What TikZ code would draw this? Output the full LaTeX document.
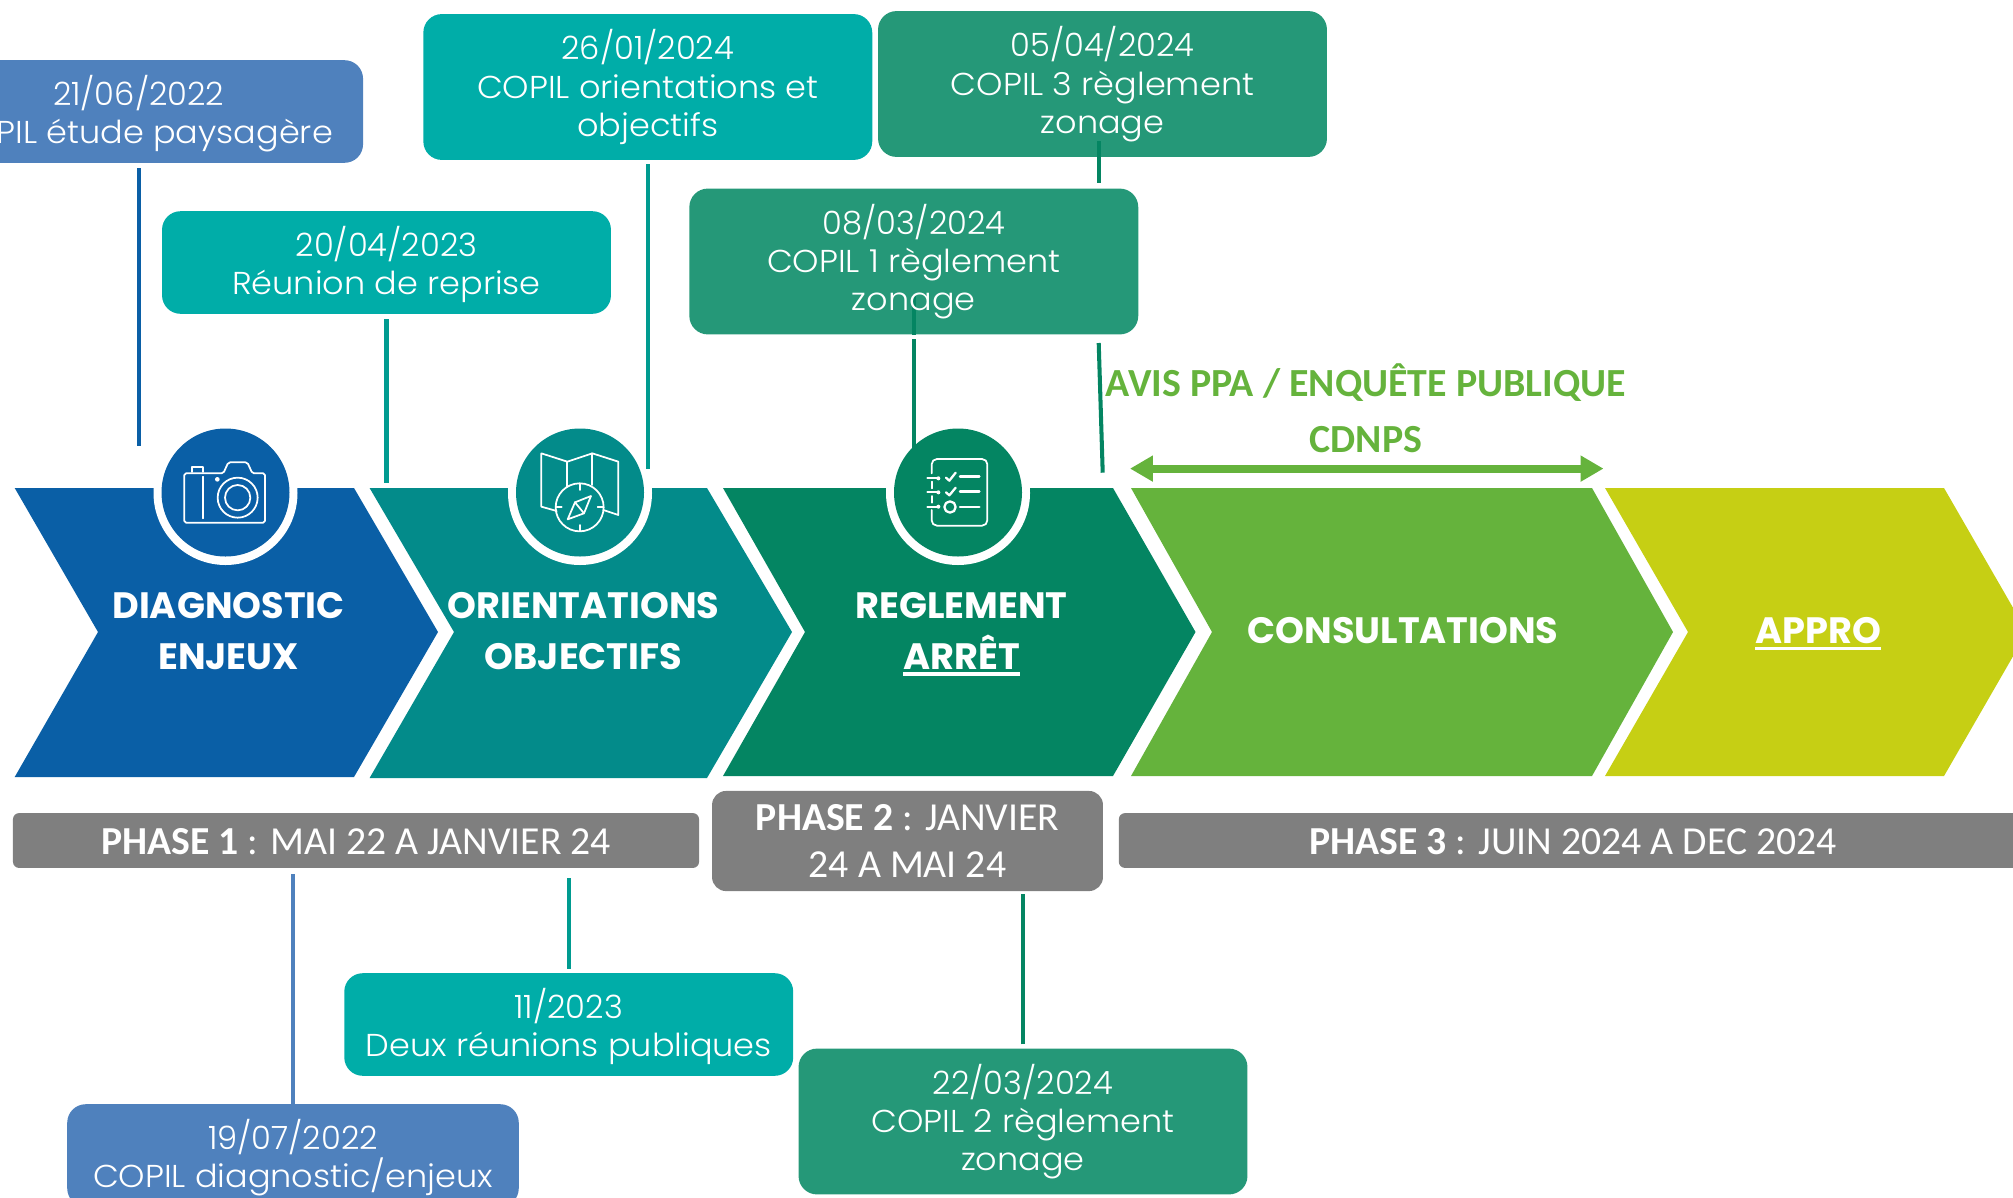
\documentclass[tikz,border=0pt]{standalone}
\usepackage{fontspec}
\setmainfont{Poppins}[UprightFont=* Light,BoldFont=* Bold]
\newfontfamily\boxfont{Poppins}[UprightFont=* Light,FakeStretch=1.06]
\newfontfamily\datefontf{Poppins}[UprightFont=* Light]
\newcommand\dt[1]{{\datefontf\fontsize{18.3}{21.8}\selectfont #1}}
\newfontfamily\calib{Carlito}
\usetikzlibrary{calc,arrows.meta}
\definecolor{cBlue}{HTML}{0A5FA6}
\definecolor{cTeal}{HTML}{038B8A}
\definecolor{cGreen}{HTML}{048562}
\definecolor{cLight}{HTML}{65B33C}
\definecolor{cLime}{HTML}{C6CF14}
\definecolor{bBlue}{HTML}{4F81BD}
\definecolor{bTeal}{HTML}{00ADA8}
\definecolor{bGreen}{HTML}{259878}
\definecolor{cGray}{HTML}{7F7F7F}
\definecolor{lTeal}{HTML}{009B90}
\newcommand\ulin[1]{\sbox0{#1}\usebox0\smash{\llap{\rule[-0.17em]{\wd0}{0.09em}}}}
\newcommand\toptwo{\rule{0pt}{19.5pt}}
\newcommand\topthree{\rule{0pt}{17.5pt}}
\newcommand\topbar{\rule{0pt}{16.5pt}}
\tikzset{
 x=0.02cm,y=-0.02cm,
 cbox/.style={rounded corners=10.5pt,minimum width=255.5pt,inner sep=0pt,text=white,align=center,
   font=\boxfont\fontsize{18}{21.8}\selectfont},
 boxlabel/.style={inner sep=0pt,text=white,align=center,font=\boxfont\fontsize{18}{21.8}\selectfont},
 ctext/.style={text=white,align=center,inner sep=0pt,font=\fontsize{20.9}{29}\selectfont\bfseries},
 phasebar/.style={fill=cGray,text=white,align=center,inner sep=0pt,font=\calib\fontsize{22.6}{27}\selectfont},
 avistext/.style={text=cLight,inner sep=0pt,font=\calib\bfseries\fontsize{22.7}{25}\selectfont},
 conn/.style={line width=2.3pt},
 icon/.style={draw=white,line width=1pt,line join=round,line cap=round},
 zoomgrid/.style={x=0.006667cm,y=-0.006667cm},
}
\begin{document}
\begin{tikzpicture}
\useasboundingbox (0,0) rectangle (2013,1197);
\clip (0,0) rectangle (2013,1197);
% chevrons
\fill[cBlue] (14.7,488)--(354,488)--(438,632)--(354,777)--(14.7,777)--(98,632)--cycle;
\fill[cTeal] (369.6,488)--(707,488)--(792,632)--(707,778)--(369.6,778)--(454,632)--cycle;
\fill[cGreen] (723,488)--(1113,488)--(1195.5,632)--(1113,776)--(723,776)--(805,632)--cycle;
\fill[cLight] (1131,488)--(1592,488)--(1673,632)--(1592,776)--(1131,776)--(1212,632)--cycle;
\fill[cLime] (1605,488)--(1944,488)--(2027,632)--(1944,776)--(1605,776)--(1688,632)--cycle;
% white rings
\fill[white] (225.5,493) circle[radius=72];
\fill[white] (580,493) circle[radius=72];
\fill[white] (958,493) circle[radius=72];
% callouts
\node[cbox,fill=bBlue,minimum height=58.4pt] (boxa) at (138.6,111.5) {\toptwo\dt{21/06/2022}\\COPIL étude paysagère};
\node[cbox,fill=bTeal,minimum height=58.4pt] (boxb) at (386.5,262.5) {\toptwo\dt{20/04/2023}\\Réunion de reprise};
\node[cbox,fill=bTeal,minimum height=83pt] (boxc) at (647.8,87) {\topthree\dt{26/01/2024}\\COPIL orientations et\\objectifs};
\node[cbox,fill=bGreen,minimum height=83pt] (boxd) at (1102.5,84) {};
\node[cbox,fill=bGreen,minimum height=83pt] (boxe) at (913.8,261.5) {};
\node[cbox,fill=bTeal,minimum height=58.4pt] (boxf) at (568.75,1024.5) {\toptwo\dt{11/2023}\\Deux réunions publiques};
\node[cbox,fill=bGreen,minimum height=83pt] (boxg) at (1023,1121.5) {\topthree\dt{22/03/2024}\\COPIL 2 règlement\\zonage};
\node[cbox,fill=bBlue,minimum height=58.4pt,minimum width=257pt] (boxh) at (293,1155.5) {\toptwo\dt{19/07/2022}\\COPIL diagnostic/enjeux};
% connector ends
\coordinate (a2) at (138.6,445.5);
\coordinate (b2) at (386.5,483);
\coordinate (c2) at (647.8,469);
\coordinate (d2) at (1099,183);
\coordinate (e2) at (913.8,450);
\coordinate (k1) at (1098.7,343);
\coordinate (k2) at (1102.7,472.7);
\coordinate (f2) at (568.75,878);
\coordinate (g2) at (1023,893.5);
\coordinate (h2) at (293,874);
\draw[conn,draw=cBlue,shorten <=3pt] (boxa.south) -- (a2);
\draw[conn,draw=lTeal,shorten <=3pt] (boxb.south) -- (b2);
\draw[conn,draw=lTeal,shorten <=2.2pt] (boxc.south) -- (c2);
\draw[conn,draw=cGreen] (boxd.south -| d2) ++(0,-16) -- (d2);
\draw[conn,draw=cGreen,shorten <=2.5pt] (boxe.south) -- (e2);
\draw[conn,draw=cGreen] (boxe.south) -- ++(0,-40);
\draw[conn,draw=cGreen] (k1) -- (k2);
\draw[conn,draw=lTeal,shorten <=2.2pt] (boxf.north) -- (f2);
\draw[conn,draw=cGreen,shorten <=2.2pt] (boxg.north) -- (g2);
\draw[conn,draw=bBlue] (boxh.north) -- (h2);
% texts of the two boxes crossed by their connector
\node[boxlabel] (boxdtext) at (boxd.center) {\topthree\dt{05/04/2024}\\COPIL 3 règlement\\zonage};
\node[boxlabel] (boxetext) at (boxe.center) {\topthree\dt{08/03/2024}\\COPIL 1 règlement\\zonage};
% inner discs
\fill[cBlue] (225.5,492.5) circle[radius=64];
\fill[cTeal] (580,492.5) circle[radius=64];
\fill[cGreen] (958,492.5) circle[radius=64];
% camera
\begin{scope}[shift={(130,410)},zoomgrid]
\draw[icon,rounded corners=1pt] (163,190)--(280,190)--(295,157)--(352,157)--(367,190)--(405,190)--(405,338)--(163,338)--cycle;
\draw[icon] (186,186)--(186,172)--(220,172)--(220,186);
\draw[icon] (219,200)--(219,325);
\fill[white] (262,208) circle[radius=7];
\draw[icon] (323,263) circle[radius=60];
\draw[icon] (323,263) circle[radius=38];
\end{scope}
% map
\begin{scope}[shift={(490,410)},zoomgrid]
\draw[icon] (200,303)--(154,290)--(154,130)--(232,155)--(307,130)--(385,155)--(385,315)--(340,300);
\draw[icon] (232,155)--(232,230);
\draw[icon] (307,130)--(307,225);
\draw[icon] (269,292) circle[radius=72];
\draw[icon] (269,222)--(269,240);
\draw[icon] (269,345)--(269,362);
\draw[icon] (197,292)--(215,292);
\draw[icon] (323,292)--(340,292);
\draw[icon] (303,258)--(282,310)--(233,328)--(255,277)--cycle;
\draw[icon] (255,277)--(282,310);
\end{scope}
% checklist
\begin{scope}[shift={(870,410)},zoomgrid]
\draw[icon,rounded corners=3pt] (185,190)--(185,147)--(352,147)--(352,347)--(185,347)--(185,300);
\draw[icon] (185,215)--(185,235);
\draw[icon] (185,258)--(185,278);
\foreach \yy in {205,247,290}{
  \draw[icon] (172,\yy)--(205,\yy);
  \fill[white] (205,\yy) circle[radius=6];
}
\draw[icon,line width=1.3pt] (228,203)--(238,212)--(257,188);
\draw[icon,line width=1.3pt] (228,247)--(238,256)--(257,233);
\draw[icon,line width=1.3pt] (240,291) circle[radius=17];
\foreach \yy in {200,245,291}{\draw[icon,line width=1.4pt] (270,\yy)--(328,\yy);}
\end{scope}
% chevron labels
\node[ctext] (t1) at (228.5,631) {DIAGNOSTIC\\ENJEUX};
\node[ctext] (t2) at (583.5,631) {ORIENTATIONS\\OBJECTIFS};
\node[ctext] (t3) at (961.5,631) {REGLEMENT\\\ulin{ARRÊT}};
\node[ctext] (t4) at (1403,631) {CONSULTATIONS};
\node[ctext] (t5) at (1818,631) {\ulin{APPRO}};
% phases
\node[phasebar,rounded corners=3.5pt,minimum width=390.5pt,minimum height=31.2pt] (p1) at (356,840.5) {\topbar\textbf{PHASE 1} : MAI 22 A JANVIER 24};
\node[phasebar,rounded corners=8pt,minimum width=222.5pt,minimum height=57pt] (p2) at (907.5,841) {\textbf{PHASE 2} : JANVIER\\24 A MAI 24};
\node[phasebar,rounded corners=3.5pt,minimum width=517pt,minimum height=31.2pt] (p3) at (1573,840.5) {\topbar\textbf{PHASE 3} : JUIN 2024 A DEC 2024};
% consultation span
\node[avistext] (avis) at (1366,382.3) {AVIS PPA / ENQUÊTE PUBLIQUE};
\node[avistext] (cdnps) at (1366,439.3) {CDNPS};
\coordinate (s1) at (1130,468.6);
\coordinate (s2) at (1603.5,468.6);
\draw[cLight,line width=4.5pt,{Triangle[length=13pt,width=14pt]}-{Triangle[length=13pt,width=14pt]}] (s1) -- (s2);
\end{tikzpicture}
\end{document}
